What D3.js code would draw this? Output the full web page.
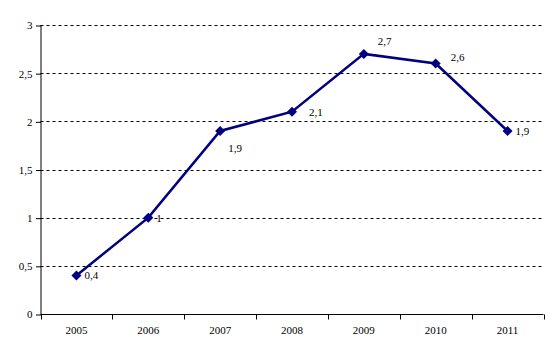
<!DOCTYPE html>
<html><head><meta charset="utf-8">
<script src="https://cdn.jsdelivr.net/npm/d3@7"></script>
<style>body{margin:0;background:#fff}svg{display:block}</style>
</head><body>
<svg id="c" width="557" height="356" font-family="'Liberation Serif', 'Times New Roman', 'DejaVu Serif', serif" font-size="11"></svg>
<script>
const years = ["2005","2006","2007","2008","2009","2010","2011"];
const values = [0.4, 1, 1.9, 2.1, 2.7, 2.6, 1.9];
const yTicks = [0, 0.5, 1, 1.5, 2, 2.5, 3];
const labelPlacement = ["right","right","belowRight","rightFar","aboveRight","aboveRightLow","right"];

const FONT = "'Liberation Serif', 'Times New Roman', 'DejaVu Serif', serif";
const svg = d3.select("#c");
const L = 40.5, R = 543.5, T = 25, B = 314;
const x = d3.scaleBand().domain(years).range([L, R]);
const y = d3.scaleLinear().domain([0, 3]).range([B, T]);
const fmt = v => String(v).replace(".", ",");

// gridlines
svg.append("g").selectAll("line").data(yTicks.filter(v => v > 0)).join("line")
  .attr("x1", L).attr("x2", R)
  .attr("y1", d => Math.round(y(d)) + 0.5).attr("y2", d => Math.round(y(d)) + 0.5)
  .attr("stroke", "#000").attr("stroke-width", 1).attr("stroke-dasharray", "3,3");

// y axis
const ya = svg.append("g").attr("transform", `translate(${L},0)`)
  .call(d3.axisLeft(y).tickValues(yTicks).tickFormat(fmt).tickSize(5).tickSizeOuter(0))
  .attr("font-family", FONT).attr("font-size", 11);
ya.select(".domain").attr("stroke", "#000").attr("d", `M0.5,${T}V${B + 0.5}`);
ya.selectAll(".tick line").attr("stroke", "#000").attr("transform", "translate(0.5,0.5)");
ya.selectAll(".tick text").attr("x", -8).attr("dy", "0.35em").attr("fill", "#000");

// x axis
const xg = svg.append("g").attr("transform", `translate(0,${Math.round(B) + 0.5})`);
xg.append("line").attr("x1", L).attr("x2", R).attr("stroke", "#000");
const edges = years.map(d => x(d)).concat([R]);
xg.selectAll(".tk").data(edges).join("line").attr("class", "tk")
  .attr("x1", d => Math.round(d) + 0.5).attr("x2", d => Math.round(d) + 0.5)
  .attr("y1", 0).attr("y2", 5).attr("stroke", "#000");
xg.selectAll("text").data(years).join("text")
  .attr("x", d => x(d) + x.bandwidth() / 2).attr("y", 19)
  .attr("font-family", FONT).attr("font-size", 11)
  .attr("text-anchor", "middle").text(d => d);

// line
const cx = (d, i) => x(years[i]) + x.bandwidth() / 2;
const line = d3.line().x((d, i) => cx(d, i)).y(d => y(d));
svg.append("path").datum(values).attr("d", line)
  .attr("fill", "none").attr("stroke", "#000080").attr("stroke-width", 2.5);

// markers
svg.append("g").selectAll("path").data(values).join("path")
  .attr("d", d3.symbol().type(d3.symbolDiamond2).size(64))
  .attr("transform", (d, i) => `translate(${cx(d, i)},${y(d)})`)
  .attr("fill", "#000080");

// labels
const off = {
  right: [8, 0], belowRight: [8, 17], rightFar: [17, 0],
  aboveRight: [14, -13], aboveRightLow: [15, -6]
};
svg.append("g").selectAll("text").data(values).join("text")
  .attr("x", (d, i) => cx(d, i) + off[labelPlacement[i]][0])
  .attr("y", (d, i) => y(d) + off[labelPlacement[i]][1])
  .attr("font-family", FONT).attr("font-size", 11)
  .attr("dy", "0.35em").text(d => fmt(d));
</script>
</body></html>
